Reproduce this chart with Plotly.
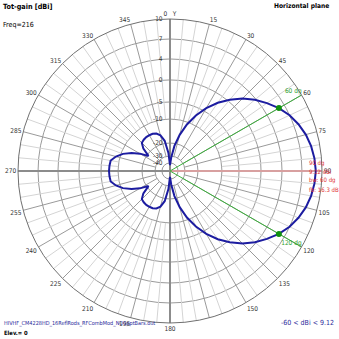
import numpy as np
import plotly.graph_objects as go

# Azimuth pattern, total gain in dBi (angles clockwise from the Y axis)
azimuth_deg = list(range(0, 360, 5))
gain_dbi = [
    -45.0, -32.0, -21.5, -15.3, -10.8, -7.1, -4.1, -1.6, 0.4, 2.3, 3.8, 5.0,      # 0-55
    6.12, 7.0, 7.75, 8.35, 8.75, 9.0, 9.12, 9.0, 8.75, 8.35, 7.75, 7.0,          # 60-115
    6.12, 5.0, 3.8, 2.3, 0.4, -1.6, -4.1, -7.1, -10.8, -15.3, -21.5, -32.0,      # 120-175
    -45.0, -27.0, -18.5, -15.5, -14.3, -13.8, -13.7, -13.7, -13.9, -14.3, -16.5, -21.0,  # 180-235
    -16.5, -13.3, -10.6, -8.7, -7.4, -7.25, -7.18, -7.25, -7.4, -8.7, -10.6, -13.3,  # 240-295
    -16.5, -21.0, -16.5, -14.3, -13.9, -13.7, -13.7, -13.8, -14.3, -15.5, -18.5, -27.0,  # 300-355
]

# Gain rings of the log chart (dBi) and their relative radii
ring_dbi = [10, 7, 4, 0, -5, -10, -20, -30, -40]
ring_frac = [1.0, 0.868, 0.737, 0.599, 0.454, 0.342, 0.184, 0.099, 0.053]
ring_text = ["10", "7", "4", "0", "-5", "-10", "-20", "-30", "-40"]

angle_ticks = list(range(0, 360, 15))
angle_text = ["0\u00a0\u00a0\u00a0Y" if a == 0 else ("" if a == 165 else str(a)) for a in angle_ticks]

beam_edges = [60, 120]          # -3 dB points
max_dir = 90
max_gain = 9.12

FONT = "Liberation Sans Narrow, Arial Narrow, DejaVu Sans Condensed, Arial"


def to_r(g):
    """Log chart scale: interpolate log-radius between the labelled rings."""
    d = 10.0 - np.asarray(g, dtype=float)
    dd = np.array([10.0 - v for v in ring_dbi])
    lf = np.log(np.array(ring_frac))
    slope = (lf[-1] - lf[-2]) / (dd[-1] - dd[-2])
    out = np.interp(d, dd, lf)
    out = np.where(d > dd[-1], lf[-1] + (d - dd[-1]) * slope, out)
    return np.exp(out)


def gain_at(theta):
    t = list(azimuth_deg) + [360]
    g = list(gain_dbi) + [gain_dbi[0]]
    return float(np.interp(theta, t, g))


fig = go.Figure()

GRID_MINOR = "#d4d4d4"
GRID_MAJOR = "#9a9a9a"

# minor 5 deg spokes
for a in range(0, 360, 5):
    if a % 15 == 0:
        continue
    fig.add_trace(go.Scatterpolar(r=[ring_frac[5], 1.0], theta=[a, a], mode="lines",
                                  line=dict(color=GRID_MINOR, width=1),
                                  hoverinfo="skip", showlegend=False))
# major 15 deg spokes
for a in angle_ticks:
    if a % 90 == 0:
        continue
    fig.add_trace(go.Scatterpolar(r=[ring_frac[7], 1.0], theta=[a, a], mode="lines",
                                  line=dict(color=GRID_MAJOR, width=1),
                                  hoverinfo="skip", showlegend=False))

# main axes
fig.add_trace(go.Scatterpolar(r=[1.0, 0, 1.0], theta=[0, 0, 180], mode="lines",
                              line=dict(color="#8c8c8c", width=2),
                              hoverinfo="skip", showlegend=False))
fig.add_trace(go.Scatterpolar(r=[0, 1.0], theta=[270, 270], mode="lines",
                              line=dict(color="#8c8c8c", width=2),
                              hoverinfo="skip", showlegend=False))
# direction of maximum gain
fig.add_trace(go.Scatterpolar(r=[0, 1.0], theta=[max_dir, max_dir], mode="lines",
                              line=dict(color="#d8a0a0", width=2),
                              hoverinfo="skip", showlegend=False))
# beamwidth lines
for a in beam_edges:
    fig.add_trace(go.Scatterpolar(r=[0, 1.0], theta=[a, a], mode="lines+text",
                                  line=dict(color="#3cb03c", width=1),
                                  text=["", f"{a} dg"], textposition="top left",
                                  textfont=dict(family=FONT, size=6.5, color="#30a030"),
                                  hoverinfo="skip", showlegend=False))

# ring labels beside the Y axis
fig.add_trace(go.Scatterpolar(r=ring_frac, theta=[0] * len(ring_frac), mode="text",
                              text=[t + "\u00a0\u00a0\u00a0\u00a0" for t in ring_text],
                              textposition="middle left",
                              textfont=dict(family=FONT, size=6.5, color="#333333"),
                              hoverinfo="skip", showlegend=False))

# pattern
theta_closed = azimuth_deg + [360]
gain_closed = gain_dbi + [gain_dbi[0]]
fig.add_trace(go.Scatterpolar(r=to_r(gain_closed), theta=theta_closed, mode="lines",
                              line=dict(color="#1c1ca0", width=2),
                              hoverinfo="skip", showlegend=False))
# -3 dB markers
fig.add_trace(go.Scatterpolar(r=to_r([gain_at(a) for a in beam_edges]), theta=beam_edges,
                              mode="markers", marker=dict(color="#109010", size=6),
                              hoverinfo="skip", showlegend=False))

fig.update_layout(
    width=339, height=339,
    margin=dict(l=0, r=0, t=0, b=0),
    paper_bgcolor="white",
    showlegend=False,
    polar=dict(
        domain=dict(x=[18 / 339, 322 / 339], y=[1 - 323 / 339, 1 - 19 / 339]),
        bgcolor="white",
        angularaxis=dict(
            rotation=90, direction="clockwise",
            tickmode="array", tickvals=angle_ticks, ticktext=angle_text,
            showgrid=False, ticks="",
            showline=True, linecolor="#707070", linewidth=1,
            tickfont=dict(family=FONT, size=6.5, color="#333333"),
        ),
        radialaxis=dict(
            range=[0, 1], tickmode="array", tickvals=ring_frac,
            showline=False, showgrid=True, gridcolor=GRID_MAJOR, gridwidth=1,
            showticklabels=False, ticks="",
        ),
    ),
)

def note(text, x, y, color="black", size=7, bold=False, xanchor="left"):
    fig.add_annotation(text=f"<b>{text}</b>" if bold else text,
                       x=x / 339, y=1 - y / 339, xref="paper", yref="paper",
                       xanchor=xanchor, yanchor="middle", showarrow=False,
                       font=dict(family=FONT, size=size, color=color))

note("Tot-gain [dBi]", 1, 7, bold=True, size=7.2)
note("Freq=216", 1, 25, size=7)
note("Horizontal plane", 331, 6, bold=True, size=6.6, xanchor="right")
note("HIVHF_CM4228HD_16ReflRods_RFCombMod_NOSpptBars.out", 2, 323, color="#2a2a9a", size=5.5)
note("-60 < dBi < 9.12", 336, 323, color="#2a2a9a", size=7, xanchor="right")
note("Elev.= 0", 2, 333, bold=True, size=5.8)

red = "#e03030"
note(f"{max_dir} dg", 307, 163, color=red, size=6)
note(f"{max_gain} dBi", 307, 171, color=red, size=6)
note("bw: 60 dg", 307, 180, color=red, size=6)
note("fb: 16.3 dB", 307, 189, color=red, size=6)

fig.write_html("out.html")
